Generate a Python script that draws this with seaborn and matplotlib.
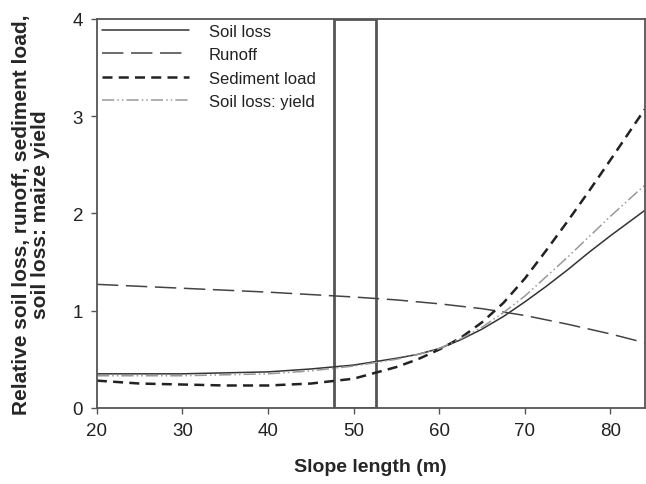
import numpy as np
import pandas as pd
import matplotlib
matplotlib.use('Agg')
import matplotlib.pyplot as plt
import matplotlib.patches as mpatches
import seaborn as sns

# values
slope_length = [20, 25, 30, 35, 40, 45, 50, 55, 57.5, 60, 62.5, 65, 67.5, 70, 72.5, 75, 77.5, 80, 82, 84]
soil_loss = [0.35, 0.35, 0.35, 0.36, 0.37, 0.40, 0.44, 0.51, 0.55, 0.61, 0.70, 0.81, 0.94, 1.09,
             1.25, 1.42, 1.60, 1.77, 1.90, 2.03]
runoff = [1.27, 1.25, 1.23, 1.21, 1.19, 1.165, 1.14, 1.11, 1.09, 1.07, 1.045, 1.02, 0.985, 0.95,
          0.905, 0.86, 0.81, 0.76, 0.715, 0.67]
sediment_load = [0.28, 0.25, 0.24, 0.23, 0.23, 0.25, 0.30, 0.42, 0.50, 0.60, 0.72, 0.88, 1.08, 1.33,
                 1.62, 1.92, 2.23, 2.55, 2.81, 3.07]
loss_yield = [0.33, 0.33, 0.33, 0.34, 0.35, 0.38, 0.43, 0.50, 0.55, 0.61, 0.71, 0.83, 0.98, 1.15,
              1.35, 1.55, 1.76, 1.97, 2.13, 2.29]
box_range = [47.7, 52.6]

sns.set_style('white')
plt.rcParams['font.family'] = ['Liberation Sans', 'DejaVu Sans']

fig = plt.figure(figsize=(6.46, 4.85), dpi=100)
ax = fig.add_axes([0.150, 0.157, 0.848, 0.802])

sns.lineplot(x=slope_length, y=soil_loss, ax=ax, color='#333333', lw=1.1,
             label='Soil loss')
sns.lineplot(x=slope_length, y=runoff, ax=ax, color='#444444', lw=1.1,
             label='Runoff').lines[-1].set_dashes([14, 5])
sns.lineplot(x=slope_length, y=sediment_load, ax=ax, color='#222222', lw=1.8,
             label='Sediment load').lines[-1].set_dashes([4, 2.5])
sns.lineplot(x=slope_length, y=loss_yield, ax=ax, color='#999999', lw=1.1,
             label='Soil loss: yield').lines[-1].set_dashes([8, 2, 1, 2, 1, 2])

# highlighted slope-length window
ax.add_patch(mpatches.Rectangle((box_range[0], 0), box_range[1] - box_range[0], 4,
                                fill=False, edgecolor='#555555', lw=2))

ax.set_xlim(20, 84)
ax.set_ylim(0, 4)
ax.set_xticks([20, 30, 40, 50, 60, 70, 80])
ax.set_yticks([0, 1, 2, 3, 4])
ax.tick_params(axis='both', direction='out', length=4, width=1, colors='#555555',
               labelcolor='#222222', labelsize=13.5, bottom=True, left=True, pad=6)
for s in ax.spines.values():
    s.set_color('#555555')
    s.set_linewidth(1.3)

ax.set_xlabel('Slope length (m)', fontsize=14, fontweight='bold', labelpad=14)
ax.set_ylabel('Relative soil loss, runoff, sediment load,\nsoil loss: maize yield',
              fontsize=15, fontweight='bold', labelpad=16, linespacing=1.0)

leg = ax.legend(loc='upper left', frameon=False, fontsize=12, handlelength=5.2,
                handletextpad=1.2, labelspacing=0.5, borderaxespad=0.1,
                borderpad=0.2)
for t in leg.get_texts():
    t.set_color('#222222')

plt.savefig('out.png', dpi=100)
